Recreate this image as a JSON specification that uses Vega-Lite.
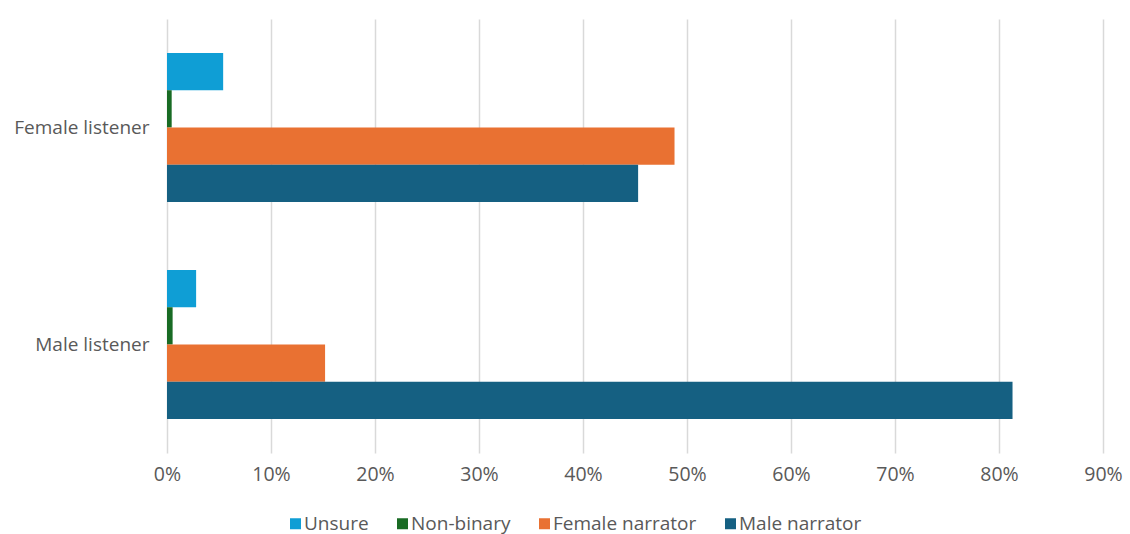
{
  "$schema": "https://vega.github.io/schema/vega-lite/v6.json",
  "width": 936,
  "height": 434,
  "autosize": {"type": "none"},
  "padding": {"left": 167, "top": 19, "right": 27, "bottom": 81},
  "background": "white",
  "config": {
    "view": {"stroke": null},
    "font": "Open Sans",
    "axis": {"labelColor": "#595959", "labelFont": "Open Sans"},
    "legend": {"labelColor": "#595959", "labelFont": "Open Sans"}
  },
  "data": {
    "values": [
      {"listener": "Female listener", "response": "Unsure", "share": 0.054},
      {"listener": "Female listener", "response": "Non-binary", "share": 0.0045},
      {"listener": "Female listener", "response": "Female narrator", "share": 0.488},
      {"listener": "Female listener", "response": "Male narrator", "share": 0.453},
      {"listener": "Male listener", "response": "Unsure", "share": 0.028},
      {"listener": "Male listener", "response": "Non-binary", "share": 0.0054},
      {"listener": "Male listener", "response": "Female narrator", "share": 0.152},
      {"listener": "Male listener", "response": "Male narrator", "share": 0.813}
    ]
  },
  "mark": {"type": "bar"},
  "encoding": {
    "y": {
      "field": "listener",
      "type": "nominal",
      "sort": ["Female listener", "Male listener"],
      "scale": {"paddingInner": 0.313, "paddingOuter": 0.1565},
      "axis": {
        "title": null,
        "domain": false,
        "ticks": false,
        "labelFontSize": 19,
        "labelPadding": 18
      }
    },
    "yOffset": {
      "field": "response",
      "type": "nominal",
      "sort": ["Unsure", "Non-binary", "Female narrator", "Male narrator"],
      "scale": {"paddingInner": 0, "paddingOuter": 0}
    },
    "x": {
      "field": "share",
      "type": "quantitative",
      "scale": {"domain": [0, 0.9], "nice": false},
      "axis": {
        "title": null,
        "format": ".0%",
        "values": [0, 0.1, 0.2, 0.3, 0.4, 0.5, 0.6, 0.7, 0.8, 0.9],
        "domain": false,
        "ticks": false,
        "grid": true,
        "gridColor": "#d9d9d9",
        "gridWidth": 1.5,
        "labelFlush": false,
        "labelFontSize": 19.5,
        "labelPadding": 12
      }
    },
    "color": {
      "field": "response",
      "type": "nominal",
      "sort": ["Unsure", "Non-binary", "Female narrator", "Male narrator"],
      "scale": {
        "domain": ["Unsure", "Non-binary", "Female narrator", "Male narrator"],
        "range": ["#0f9ed5", "#196b24", "#e97132", "#156082"]
      },
      "legend": {
        "title": null,
        "orient": "none",
        "direction": "horizontal",
        "legendX": 119,
        "legendY": 495,
        "padding": 0,
        "symbolType": "square",
        "symbolSize": 121,
        "symbolStrokeWidth": 0,
        "symbolOpacity": 1,
        "labelFontSize": 19,
        "labelOffset": -1,
        "labelLimit": 300,
        "columnPadding": 24
      }
    }
  }
}
